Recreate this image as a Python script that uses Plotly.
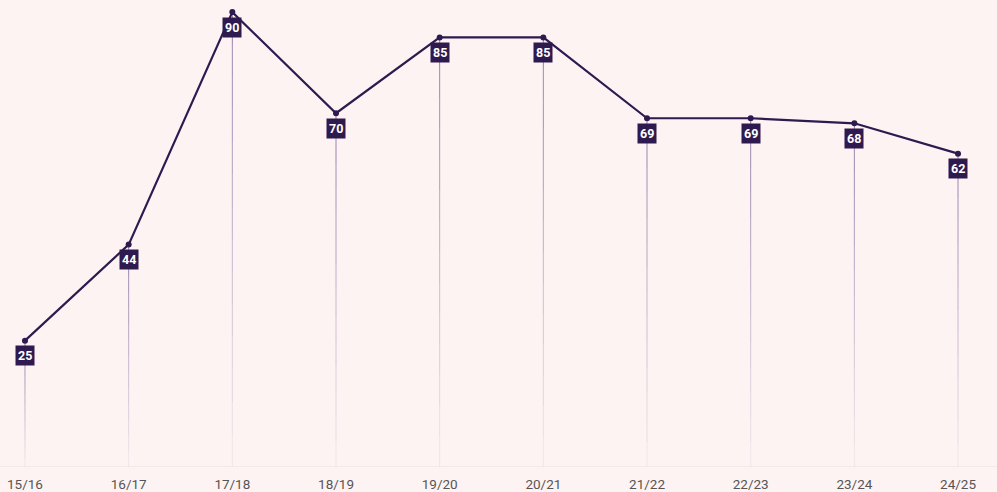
# season scores line chart with drop lines and value badges
import plotly.graph_objects as go

# data
seasons = ["15/16", "16/17", "17/18", "18/19", "19/20", "20/21", "21/22", "22/23", "23/24", "24/25"]
scores = [25, 44, 90, 70, 85, 85, 69, 69, 68, 62]

dark = "#2e1a4f"
bg = "#fef3f3"

fig = go.Figure()

# fading drop lines: split each stem into pieces with falling opacity
steps = 14
for i, v in enumerate(scores):
    for k in range(steps):
        top = v * (1 - k / steps)
        bot = v * (1 - (k + 1) / steps)
        alpha = 0.6 * (1 - k / steps) + 0.03
        fig.add_trace(go.Scatter(
            x=[i, i], y=[top, bot], mode="lines",
            line=dict(color=f"rgba(90,60,130,{alpha:.3f})", width=1),
            hoverinfo="skip", showlegend=False,
        ))

# main line
fig.add_trace(go.Scatter(
    x=list(range(len(seasons))), y=scores, mode="lines+markers",
    line=dict(color=dark, width=2.2),
    marker=dict(color=dark, size=6),
    showlegend=False,
))

# value badges
for i, v in enumerate(scores):
    fig.add_annotation(
        x=i, y=v, text=f"<b>{v}</b>", showarrow=False, yshift=-15,
        font=dict(family="Roboto", size=12.5, color="white"),
        bgcolor=dark, borderpad=2,
    )

fig.update_xaxes(
    range=[-0.241, 9.376],
    tickmode="array", tickvals=list(range(len(seasons))), ticktext=seasons,
    showgrid=False, zeroline=False, showline=False,
    ticks="outside", ticklen=5, tickcolor="rgba(0,0,0,0)",
    tickfont=dict(family="Roboto", size=13.5, color="#555555"),
)
fig.update_yaxes(range=[0, 92], visible=False)

# thin baseline
fig.add_shape(type="line", xref="paper", yref="y", x0=0, x1=1, y0=0, y1=0,
              line=dict(color="#ecdcdf", width=1))

fig.update_layout(
    width=997, height=492,
    margin=dict(l=0, r=0, t=2, b=25),
    paper_bgcolor=bg, plot_bgcolor=bg,
)

fig.write_html("out.html", config={"displayModeBar": False},
               post_script="document.body.style.margin='0';")
